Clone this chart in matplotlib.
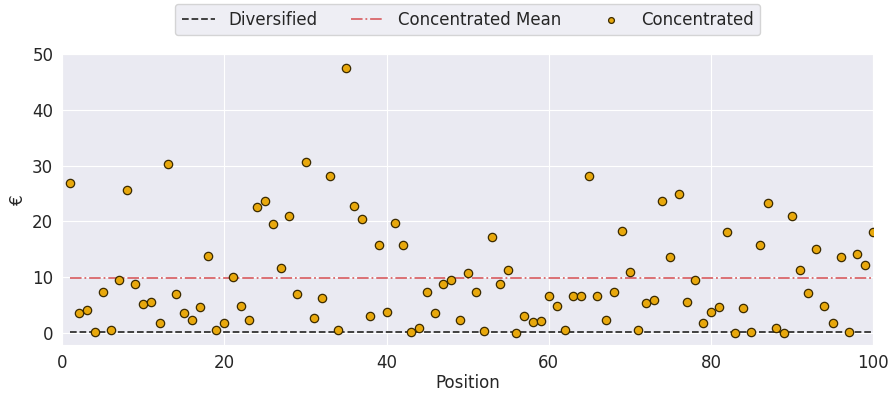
import numpy as np
import matplotlib
matplotlib.use('Agg')
import matplotlib.pyplot as plt
import seaborn as sns

positions = np.arange(1, 101)
concentrated = [
    26.8, 3.5, 4.1, 0.2, 7.35, 0.45, 9.4, 25.6, 8.8, 5.2,
    5.6, 1.8, 30.2, 6.9, 3.5, 2.35, 4.7, 13.8, 0.45, 1.7,
    10.0, 4.8, 2.35, 22.6, 23.6, 19.6, 11.7, 20.9, 7.0, 30.7,
    2.65, 6.3, 28.2, 0.6, 47.5, 22.7, 20.5, 2.95, 15.7, 3.8,
    19.7, 15.7, 0.1, 0.85, 7.35, 3.6, 8.8, 9.4, 2.35, 10.7,
    7.35, 0.3, 17.1, 8.7, 11.2, 0.0, 3.05, 1.95, 2.05, 6.7,
    4.8, 0.57, 6.7, 6.7, 28.1, 6.7, 2.35, 7.35, 18.2, 10.9,
    0.57, 5.3, 5.85, 23.6, 13.6, 24.9, 5.6, 9.55, 1.8, 3.7,
    4.7, 18.1, 0.0, 4.4, 0.2, 15.7, 23.2, 0.85, 0.0, 21.0,
    11.35, 7.1, 15.1, 4.9, 1.8, 13.6, 0.2, 14.1, 12.1, 18.1,
]
diversified_value = 0.1

concentrated = np.array(concentrated)
diversified = np.full(positions.shape, diversified_value)
conc_mean = np.full(positions.shape, concentrated.mean())

sns.set_style('darkgrid')
plt.rcParams['font.size'] = 12

fig, ax = plt.subplots(figsize=(8.9, 3.94), dpi=100)
fig.subplots_adjust(left=0.070, right=0.981, bottom=0.124, top=0.863)

ax.plot(positions, diversified, '--', color='#333333', lw=1.3, label='Diversified')
ax.plot(positions, conc_mean, '-.', color='#d9666a', lw=1.3, label='Concentrated Mean')
ax.scatter(positions, concentrated, s=36, color='#e8a80c', edgecolor='#3a2a00',
           linewidth=0.9, zorder=3, label='Concentrated')

ax.set_xlim(0, 100)
ax.set_ylim(-2.2, 50)
ax.set_xlabel('Position', fontsize=12, labelpad=1)
ax.set_ylabel('€', fontsize=12)
ax.tick_params(labelsize=12, pad=3)

ax.legend(loc='lower center', bbox_to_anchor=(0.5, 1.035), ncol=3,
          scatterpoints=1, markerscale=0.7, fontsize=12, frameon=True)

fig.savefig('out.png')
